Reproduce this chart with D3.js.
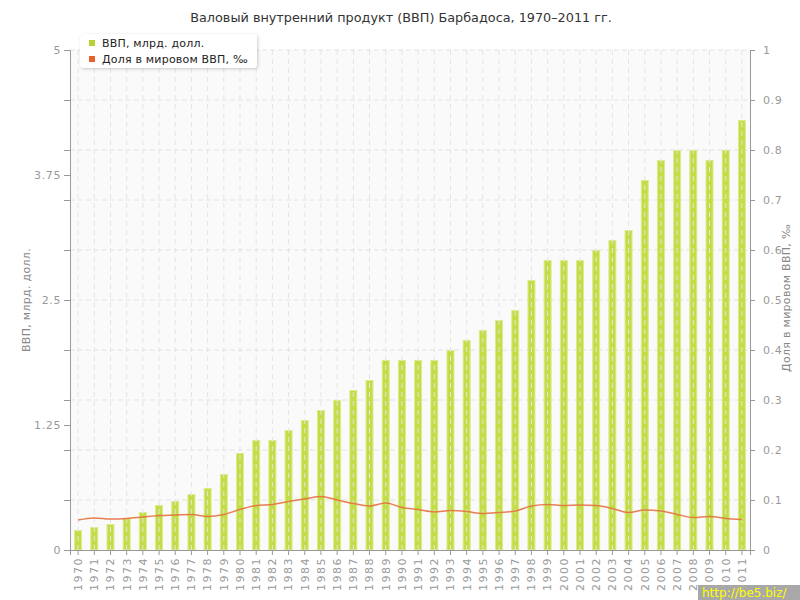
<!DOCTYPE html>
<html><head><meta charset="utf-8">
<script src="https://cdn.jsdelivr.net/npm/d3@7"></script>
<style>body{margin:0;background:#fff;font-family:"DejaVu Sans",Verdana,sans-serif;}</style>
</head><body>
<svg id="c" width="800" height="600"></svg>
<script>
const years = d3.range(1970, 2012).map(String);
const gdp = [0.20,0.23,0.26,0.32,0.38,0.45,0.49,0.56,0.62,0.76,0.97,1.10,1.10,1.20,1.30,1.40,1.50,1.60,1.70,1.90,1.90,1.90,1.90,2.00,2.10,2.20,2.30,2.40,2.70,2.90,2.90,2.90,3.00,3.10,3.20,3.70,3.90,4.00,4.00,3.90,4.00,4.30];
const share = [0.060,0.064,0.062,0.063,0.066,0.069,0.070,0.071,0.067,0.071,0.081,0.089,0.091,0.097,0.102,0.107,0.100,0.093,0.088,0.094,0.085,0.081,0.076,0.079,0.077,0.073,0.075,0.078,0.088,0.091,0.089,0.090,0.089,0.083,0.075,0.080,0.078,0.071,0.065,0.067,0.063,0.061];
const leftTicks = [0,1.25,2.5,3.75,5];
const rightTicks = [0,0.1,0.2,0.3,0.4,0.5,0.6,0.7,0.8,0.9,1];
const title = "Валовый внутренний продукт (ВВП) Барбадоса, 1970–2011 гг.";
const seriesNames = ["ВВП, млрд. долл.","Доля в мировом ВВП, ‰"];

const svg = d3.select("#c");
const L=70,R=750,T=50,B=550;
const x = d3.scaleBand().domain(years).range([L,R]).padding(0);
const yL = d3.scaleLinear().domain([0,5]).range([B,T]);
const yR = d3.scaleLinear().domain([0,1]).range([B,T]);
const cx = d=>x(d)+x.bandwidth()/2;

svg.append("rect").attr("x",L).attr("y",T).attr("width",R-L).attr("height",B-T).attr("fill","#fafafa");

// horizontal gridlines
svg.append("g").selectAll("line").data(rightTicks.slice(1)).join("line")
  .attr("x1",L).attr("x2",R).attr("y1",d=>yR(d)).attr("y2",d=>yR(d))
  .attr("stroke","#e2e2e2").attr("stroke-dasharray","5,3");

// bars
const bw = 8;
svg.append("g").selectAll("rect").data(years).join("rect")
  .attr("x",(d)=>cx(d)-bw/2+0.5).attr("width",bw-1)
  .attr("y",(d,i)=>yL(gdp[i])+0.5).attr("height",(d,i)=>B-yL(gdp[i])-0.5)
  .attr("fill","#c2dd45").attr("stroke","#dcec8c").attr("stroke-width",1);

// vertical gridlines
svg.append("g").selectAll("line").data(years).join("line")
  .attr("x1",d=>cx(d)).attr("x2",d=>cx(d)).attr("y1",T).attr("y2",B)
  .attr("stroke","#e4e4e4").attr("stroke-dasharray","5,4");

// line
svg.append("path").datum(share)
  .attr("d", d3.line().x((d,i)=>cx(years[i])).y(d=>yR(d)).curve(d3.curveMonotoneX))
  .attr("fill","none").attr("stroke","#e5713f").attr("stroke-width",1.5).attr("opacity",0.9);

// axes
const axisColor="#999", textColor="#999";
const gL = svg.append("g").attr("transform",`translate(${L},0)`)
  .call(d3.axisLeft(yL).tickValues(leftTicks).tickFormat(d=>String(d)).tickSize(6).tickPadding(3));
const gLm = svg.append("g").attr("transform",`translate(${L},0)`)
  .call(d3.axisLeft(yR).tickValues(rightTicks).tickFormat("").tickSize(6));
const gR = svg.append("g").attr("transform",`translate(${R},0)`)
  .call(d3.axisRight(yR).tickValues(rightTicks).tickFormat(d=>String(d)).tickSize(5).tickPadding(8));
const gB = svg.append("g").attr("transform",`translate(0,${B})`)
  .call(d3.axisBottom(x).tickSize(5).tickPadding(4));
gB.selectAll("text").attr("transform","rotate(-90)").attr("text-anchor","end")
  .attr("x",-7).attr("y",0).attr("dy","0.35em");
[gL,gLm,gR,gB].forEach(g=>{
  g.select(".domain").attr("stroke",axisColor);
  g.selectAll(".tick line").attr("stroke",axisColor);
  g.selectAll("text").attr("fill",textColor).attr("font-size",11).attr("font-family","DejaVu Sans, Verdana, sans-serif");
});
gB.selectAll("text").attr("letter-spacing",1.5);
gL.selectAll("text").attr("letter-spacing",0.6);
gR.selectAll("text").attr("letter-spacing",0.6);
gLm.select(".domain").remove();

// axis titles
svg.append("text").attr("transform","translate(30,300) rotate(-90)").attr("text-anchor","middle")
  .attr("font-size",11).attr("fill","#888").attr("letter-spacing",0.3).text("ВВП, млрд. долл.");
svg.append("text").attr("transform","translate(790,298) rotate(-90)").attr("text-anchor","middle")
  .attr("font-size",11).attr("fill","#888").attr("letter-spacing",0.3).text("Доля в мировом ВВП, ‰");

// title
svg.append("text").attr("x",401).attr("y",22).attr("text-anchor","middle")
  .attr("font-size",12.8).attr("fill","#333").text(title);

// legend
const defs = svg.append("defs");
const f = defs.append("filter").attr("id","sh").attr("x","-10%").attr("y","-20%").attr("width","130%").attr("height","160%");
f.append("feDropShadow").attr("dx",1).attr("dy",1).attr("stdDeviation",1.5).attr("flood-color","#000").attr("flood-opacity",0.2);
const lg = svg.append("g");
lg.append("rect").attr("x",80).attr("y",34).attr("width",177).attr("height",34).attr("rx",4)
  .attr("fill","#fff").attr("filter","url(#sh)");
const lcol = ["#b5d334","#e8602c"];
seriesNames.forEach((n,i)=>{
  lg.append("rect").attr("x",89).attr("y",40+i*16).attr("width",6).attr("height",6).attr("fill",lcol[i]);
  lg.append("text").attr("x",102).attr("y",47+i*16).attr("font-size",11).attr("fill","#222").attr("letter-spacing",0.2).text(n);
});

// watermark
svg.append("rect").attr("x",698).attr("y",585).attr("width",102).attr("height",15).attr("fill","#a8a8a8");
svg.append("text").attr("x",702).attr("y",597).attr("font-size",12).attr("fill","#ffff00").text("http://be5.biz/");
</script>
</body></html>
